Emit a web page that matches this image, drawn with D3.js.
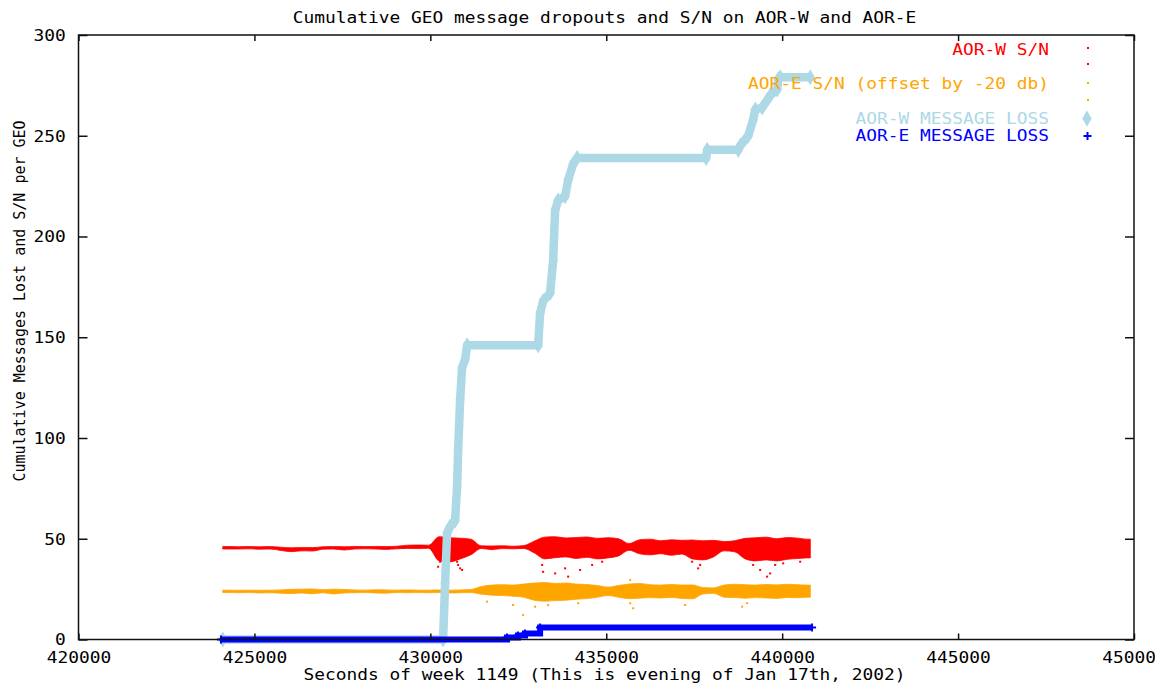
<!DOCTYPE html>
<html>
<head>
<meta charset="utf-8">
<script src="https://cdn.jsdelivr.net/npm/d3@7"></script>
<style>
  html, body { margin: 0; padding: 0; background: #fff; }
  svg { display: block; }
  text { font-family: "DejaVu Sans Mono", "Liberation Mono", monospace; font-size: 15px; }
</style>
</head>
<body>
<svg id="chart" width="1155" height="686"></svg>
<script>
// ---- Axis ticks ----
const xTicks = [420000, 425000, 430000, 435000, 440000, 445000, 450000];
const yTicks = [0, 50, 100, 150, 200, 250, 300];

// ---- S/N bins: start time of each 300 s bin, end of the last bin ----
const snTime = [424100, 424400, 424700, 425000, 425300, 425600, 425900, 426200,
  426500, 426800, 427100, 427400, 427700, 428000, 428300, 428600, 428900, 429200,
  429500, 429800, 430100, 430400, 430700, 431000, 431300, 431600, 431900, 432200,
  432500, 432800, 433100, 433400, 433700, 434000, 434300, 434600, 434900, 435200,
  435500, 435800, 436100, 436400, 436700, 437000, 437300, 437600, 437900, 438200,
  438500, 438800, 439100, 439400, 439700, 440000, 440300, 440600];
const snEnd = 440800;

// AOR-W S/N spread (dB) per bin
const awLo = [44.9, 44.9, 45.0, 44.8, 44.9, 44.2, 43.6, 44.0, 43.9, 44.8, 44.9, 44.4,
  44.9, 45.0, 44.9, 44.7, 45.0, 45.2, 45.1, 45.3, 39.0, 38.5, 40.0, 42.0, 45.2, 44.6,
  45.1, 45.0, 45.2, 43.0, 40.0, 40.6, 41.0, 40.2, 40.8, 40.0, 40.5, 41.5, 44.3, 42.5,
  42.0, 42.6, 41.8, 42.4, 40.0, 39.5, 41.0, 44.0, 43.5, 40.0, 39.0, 39.5, 39.0, 39.8,
  40.2, 40.5];
const awHi = [46.1, 46.0, 46.1, 46.0, 46.1, 45.8, 45.5, 45.6, 45.6, 46.0, 46.1, 46.0,
  46.2, 46.1, 46.2, 46.1, 46.3, 46.8, 46.9, 46.8, 51.0, 50.5, 50.3, 49.8, 46.5, 46.4,
  46.5, 46.3, 46.6, 48.8, 50.8, 51.0, 50.4, 50.6, 50.9, 50.2, 50.5, 50.0, 47.6, 49.5,
  49.8, 49.0, 49.5, 49.2, 49.4, 49.0, 49.2, 48.6, 49.0, 50.2, 50.5, 50.8, 50.0, 50.6,
  50.3, 49.8];

// AOR-E S/N spread (dB, offset by -20 dB) per bin
const aeLo = [23.3, 23.2, 23.3, 23.1, 23.2, 23.0, 22.8, 23.1, 22.7, 23.2, 22.6, 23.1,
  23.2, 23.3, 23.1, 23.0, 23.3, 23.2, 23.3, 23.2, 23.3, 23.1, 23.2, 23.3, 22.5, 22.0,
  21.8, 21.5, 21.0, 19.5, 19.0, 19.3, 19.5, 20.0, 20.3, 21.0, 21.8, 21.0, 20.3, 20.5,
  20.8, 20.6, 20.9, 20.4, 20.2, 22.6, 22.9, 21.0, 20.8, 20.5, 20.8, 20.6, 20.4, 20.9,
  20.7, 21.0];
const aeHi = [24.5, 24.4, 24.5, 24.4, 24.5, 24.6, 24.9, 25.0, 25.1, 24.7, 25.0, 24.8,
  24.6, 24.5, 24.7, 24.6, 24.5, 24.6, 24.5, 24.5, 24.6, 24.5, 24.6, 24.8, 26.3, 27.0,
  27.2, 27.0, 27.5, 28.0, 28.3, 27.8, 28.0, 27.5, 27.3, 26.8, 26.0, 26.8, 27.5, 27.8,
  27.2, 27.0, 27.3, 27.0, 27.1, 25.8, 25.6, 27.0, 27.4, 27.2, 27.0, 27.3, 27.1, 27.4,
  27.2, 27.0];

// Isolated low S/N readings [time, dB]
const awStray = [[430221, 36.1], [430277, 38.6], [430761, 38.6], [430790, 37.0],
  [430847, 35.3], [430903, 34.5], [433178, 37.0], [433206, 33.6], [433547, 32.8],
  [433831, 35.3], [433917, 31.2], [434258, 34.5], [434599, 37.0], [434883, 38.6],
  [437442, 38.6], [437612, 35.3], [437669, 37.0], [439175, 37.0], [439374, 34.5],
  [439573, 31.2], [439659, 32.8], [439801, 37.0], [440029, 37.8], [440512, 38.6]];
const aeStray = [[431610, 18.8], [432353, 17.1], [432637, 12.2], [432978, 16.3],
  [433348, 17.1], [434201, 18.0], [435680, 18.0], [435766, 15.5], [437243, 17.1],
  [438863, 16.3], [439005, 18.0], [435680, 29.5]];

// Cumulative message loss
const awLossT = [424100, 430363, 430420, 430477, 430562, 430704, 430761, 430790,
  430847, 430903, 430989, 431046, 433064, 433121, 433206, 433405, 433490, 433547,
  433632, 433831, 433917, 434059, 434173, 437840, 437870, 438751, 438808, 439035,
  439177, 439234, 439433, 439661, 439860, 439888, 439945, 440798];
const awLossN = [0, 0, 28, 53, 56, 59, 76, 94, 119, 135, 139, 146, 146, 162, 168, 172,
  188, 213, 218, 220, 228, 236, 239, 239, 243, 243, 245, 250, 258, 263, 264, 270, 273,
  278, 279, 279];
const aeLossT = [424050, 432180, 432490, 432690, 433120, 440850];
const aeLossN = [0, 1, 2, 3, 6, 6];

// ---- Legend ----
const legendLabels = ["AOR-W S/N", "AOR-E S/N (offset by -20 db)",
  "AOR-W MESSAGE LOSS", "AOR-E MESSAGE LOSS"];
const colW = "#ff0000", colE = "#ffa500", colWLoss = "#add8e6", colELoss = "#0000ff";

const CH = 10.75; // horizontal advance per character

const svg = d3.select("#chart");
const x = d3.scaleLinear().domain([420000, 450000]).range([78.5, 1134]);
const y = d3.scaleLinear().domain([0, 300]).range([639.5, 35]);

function stretch(sel) {
  sel.each(function () {
    const t = d3.select(this);
    const n = t.text().length;
    t.attr("textLength", n * CH).attr("lengthAdjust", "spacingAndGlyphs");
  });
  return sel;
}

// S/N bands: spread per bin, drawn through the bin centres
function band(lo, hi, color) {
  const rows = snTime.map((t, i) => {
    const t1 = i + 1 < snTime.length ? snTime[i + 1] : snEnd;
    return { t: (t + t1) / 2, lo: lo[i], hi: hi[i] };
  });
  rows.unshift({ t: snTime[0], lo: lo[0], hi: hi[0] });
  rows.push({ t: snEnd, lo: lo[lo.length - 1], hi: hi[hi.length - 1] });
  const area = d3.area().curve(d3.curveMonotoneX)
    .x(d => x(d.t)).y0(d => y(d.lo)).y1(d => y(d.hi));
  svg.append("path").datum(rows).attr("d", area).attr("fill", color)
    .attr("stroke", color).attr("stroke-width", 0.8);
}
function stray(pts, color) {
  svg.append("g").selectAll("rect").data(pts).join("rect")
    .attr("x", d => x(d[0]) - 1).attr("y", d => y(d[1]) - 1)
    .attr("width", 2).attr("height", 2).attr("fill", color);
}
band(awLo, awHi, colW);
stray(awStray, colW);
band(aeLo, aeHi, colE);
stray(aeStray, colE);

// AOR-W message loss (diamonds)
const wl = awLossT.map((t, i) => ({ t, n: awLossN[i] }));
svg.append("path").datum(wl)
  .attr("d", d3.line().x(d => x(d.t)).y(d => y(d.n)))
  .attr("fill", "none").attr("stroke", colWLoss).attr("stroke-width", 8.5)
  .attr("stroke-linejoin", "round");
const diamond = d3.symbol().type(d3.symbolDiamond).size(75);
svg.append("g").selectAll("path").data(wl).join("path")
  .attr("transform", d => `translate(${x(d.t)},${y(d.n)})`)
  .attr("d", diamond).attr("fill", colWLoss);

// AOR-E message loss (plus markers)
const el = aeLossT.map((t, i) => ({ t, n: aeLossN[i] }));
svg.append("path").datum(el)
  .attr("d", d3.line().curve(d3.curveStepAfter).x(d => x(d.t)).y(d => y(d.n)))
  .attr("fill", "none").attr("stroke", colELoss).attr("stroke-width", 6);
svg.append("g").selectAll("path").data(el).join("path")
  .attr("transform", d => `translate(${x(d.t)},${y(d.n)})`)
  .attr("d", "M-4,0H4M0,-4V4").attr("stroke", colELoss).attr("stroke-width", 2);

// Axes with inward ticks on all four sides
const gx = svg.append("g").attr("transform", "translate(0,639.5)")
  .call(d3.axisBottom(x).tickValues(xTicks).tickSize(-6).tickSizeOuter(0).tickFormat(d3.format("d")));
const gxt = svg.append("g").attr("transform", "translate(0,35)")
  .call(d3.axisTop(x).tickValues(xTicks).tickSize(-6).tickSizeOuter(0).tickFormat(""));
const gy = svg.append("g").attr("transform", "translate(78.5,0)")
  .call(d3.axisLeft(y).tickValues(yTicks).tickSize(-9).tickSizeOuter(0).tickFormat(d3.format("d")));
const gyr = svg.append("g").attr("transform", "translate(1134,0)")
  .call(d3.axisRight(y).tickValues(yTicks).tickSize(-9).tickSizeOuter(0).tickFormat(""));
[gx, gxt, gy, gyr].forEach(g => {
  g.select(".domain").remove();
  g.selectAll(".tick line").attr("stroke", "#111").attr("stroke-width", 1.5);
});
gx.selectAll(".tick text").attr("y", 18.5).attr("dy", "0.35em")
  .attr("fill", "#000").style("font-size", "15px").call(stretch);
gy.selectAll(".tick text").attr("x", -12.8).attr("dy", "0.35em")
  .attr("fill", "#000").style("font-size", "15px").call(stretch);

svg.append("rect").attr("x", 78.5).attr("y", 35).attr("width", 1134 - 78.5)
  .attr("height", 639.5 - 35).attr("fill", "none").attr("stroke", "#111").attr("stroke-width", 1.5);

// Titles
svg.append("text").attr("x", 604.5).attr("y", 18).attr("dy", "0.35em")
  .attr("text-anchor", "middle")
  .text("Cumulative GEO message dropouts and S/N on AOR-W and AOR-E").call(stretch);
svg.append("text").attr("x", 604.5).attr("y", 675).attr("dy", "0.35em")
  .attr("text-anchor", "middle")
  .text("Seconds of week 1149 (This is evening of Jan 17th, 2002)").call(stretch);
svg.append("text").attr("transform", "translate(20,301) rotate(-90)")
  .attr("dy", "0.35em").attr("text-anchor", "middle")
  .text("Cumulative Messages Lost and S/N per GEO");

// Legend
const legY = [50, 84, 119, 136];
const legCol = [colW, colE, colWLoss, colELoss];
legendLabels.forEach((s, i) => {
  svg.append("text").attr("x", 1049 - s.length * CH).attr("y", legY[i]).attr("dy", "0.35em")
    .attr("fill", legCol[i]).text(s).call(stretch);
});
[[48, colW], [64, colW], [83, colE], [100, colE]].forEach(([yy, c]) => {
  svg.append("rect").attr("x", 1087).attr("y", yy - 1).attr("width", 2).attr("height", 2).attr("fill", c);
});
svg.append("path").attr("transform", "translate(1087,118.5)").attr("d", diamond).attr("fill", colWLoss);
svg.append("path").attr("transform", "translate(1087.5,136)").attr("d", "M-4,0H4M0,-4V4")
  .attr("stroke", colELoss).attr("stroke-width", 2);
</script>
</body>
</html>
